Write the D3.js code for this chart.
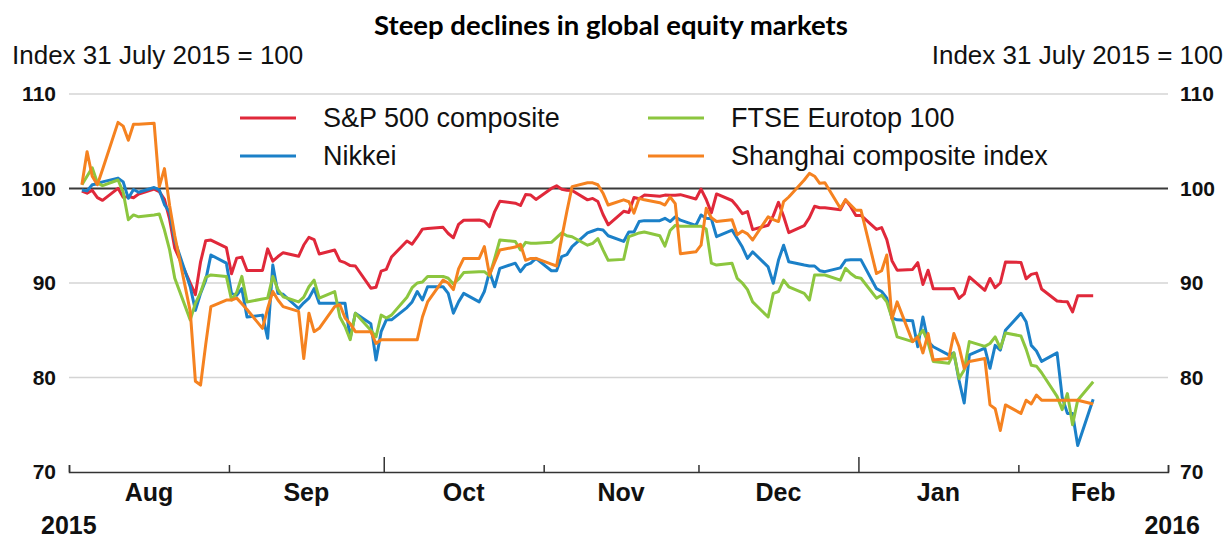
<!DOCTYPE html>
<html><head><meta charset="utf-8">
<script src="https://cdn.jsdelivr.net/npm/d3@7"></script>
<style>body{margin:0;background:#fff}svg{display:block}</style>
</head><body>
<svg id="c" width="1226" height="538"></svg>
<script>
// ---- data (index, 31 July 2015 = 100), one value per weekday 3 Aug 2015 .. 15 Feb 2016 ----
const seriesNames = ["S&P 500 composite", "Nikkei", "FTSE Eurotop 100", "Shanghai composite index"];
const seriesColors = ["#e0283a", "#1b80c8", "#8cc63f", "#f58220"];
const sp500 = [
 99.72, 99.50, 99.81, 99.04, 98.75,  100.02, 99.06, 99.15, 99.03, 99.42,
 99.93, 99.67, 98.85, 96.76, 93.68,  89.99, 88.77, 92.24, 94.48, 94.54,
 93.74, 90.97, 92.63, 92.74, 91.32,  91.32, 93.61, 92.31, 92.80, 93.21,
 92.83, 94.02, 94.84, 94.60, 93.07,  93.49, 92.34, 92.15, 91.84, 91.80,
 89.45, 89.55, 91.26, 91.44, 92.75,  94.45, 94.11, 94.87, 95.70, 95.77,
 95.89, 95.24, 94.79, 96.20, 96.64,  96.66, 96.53, 95.97, 97.56, 98.64,
 98.45, 98.20, 99.36, 99.31, 98.84,  100.01, 100.28, 99.93, 99.81, 99.78,
 98.80, 98.95, 98.63, 97.25, 96.16,  97.59, 97.46, 99.04, 98.92, 99.30,
 99.18, 99.30, 99.29, 99.29, 99.35,  98.89, 99.94, 98.84, 97.42, 99.42,
 98.73, 98.09, 97.33, 97.55, 95.65,  96.11, 97.13, 98.54, 97.06, 95.33,
 96.07, 96.92, 98.12, 97.96, 97.96,  97.75, 98.79, 98.08, 97.15, 97.15,
 95.67, 95.86, 94.60, 92.36, 91.36,  91.44, 92.15, 89.85, 91.35, 89.38,
 89.38, 89.42, 88.38, 88.84, 90.64,  89.22, 90.48, 89.50, 90.00, 92.22,
 92.18, 90.45, 90.91, 91.05, 89.36,  88.10, 88.04, 88.02, 86.94, 88.64,
 88.64];
const nikkei = [
 99.84, 99.75, 100.4, 100.5, 100.7,  101.1, 100.7, 98.96, 99.9, 99.6,
 100.1, 99.85, 98.3, 97.5, 94.5,  89.6, 87.1, 88.9, 90.3, 92.96,
 92.1, 88.9, 88.7, 89.4, 86.4,  86.6, 84.15, 91.9, 88.9, 88.8,
 87.3, 87.9, 88.4, 89.4, 87.85,  87.85, 87.85, 87.85, 84.15, 86.8,
 85.7, 81.85, 84.85, 86.1, 86.1,  87.4, 88.0, 89.1, 88.2, 89.6,
 89.6, 88.9, 86.8, 88.0, 88.9,  88.0, 89.1, 91.2, 89.6, 91.55,
 92.1, 91.2, 91.9, 92.1, 92.6,  91.3, 91.3, 92.8, 93.0, 93.85,
 95.3, 95.5, 95.7, 95.6, 95.0,  94.4, 95.4, 95.4, 96.5, 96.6,
 96.6, 96.85, 96.5, 97.0, 96.65,  96.1, 97.2, 96.85, 96.8, 94.9,
 95.6, 94.7, 93.8, 92.6, 93.3,  91.7, 89.97, 92.4, 94.0, 92.25,
 91.9, 91.8, 91.8, 91.3, 91.2,  91.6, 92.4, 92.45, 92.45, 92.45,
 89.4, 89.1, 88.4, 86.3, 86.1,  86.0, 83.25, 86.4, 83.8, 83.25,
 82.4, 82.6, 79.7, 77.3, 82.4,  83.1, 80.97, 83.4, 82.9, 85.0,
 86.8, 85.9, 83.4, 82.8, 81.7,  82.6, 77.9, 76.2, 76.2, 72.8,
 77.7];
const ftse = [
 100.4, 101.3, 102.2, 100.6, 100.3,  100.9, 99.6, 96.7, 97.2, 97.0,
 97.2, 97.3, 95.6, 93.5, 90.5,  86.1, 87.85, 89.0, 90.6, 90.85,
 90.7, 88.2, 89.0, 90.7, 88.0,  88.3, 88.4, 90.7, 89.3, 88.55,
 88.0, 88.5, 89.6, 90.3, 88.4,  89.1, 86.4, 85.4, 84.0, 86.8,
 85.0, 84.3, 86.6, 86.3, 86.6,  88.5, 89.5, 90.0, 90.1, 90.7,
 90.7, 90.5, 89.9, 90.4, 91.1,  91.2, 91.2, 90.75, 92.6, 94.55,
 94.4, 93.5, 94.3, 94.2, 94.2,  94.3, 94.8, 95.3, 95.0, 94.9,
 94.0, 94.2, 94.7, 93.5, 92.4,  92.5, 94.9, 95.1, 95.3, 95.4,
 95.0, 93.9, 95.55, 96.1, 96.0,  96.0, 96.0, 95.7, 92.1, 91.9,
 92.1, 90.5, 90.0, 89.3, 88.0,  86.4, 88.9, 89.1, 90.3, 89.6,
 88.9, 88.2, 90.85, 90.85, 90.85,  90.3, 91.55, 91.0, 90.6, 90.5,
 88.4, 88.7, 88.0, 86.3, 84.3,  83.8, 84.3, 85.0, 83.7, 81.7,
 81.5, 82.6, 79.9, 80.8, 83.8,  83.3, 83.6, 84.3, 83.1, 84.7,
 84.4, 83.0, 81.3, 81.2, 80.5,  78.0, 76.6, 78.3, 75.0, 77.6,
 79.55];
const shanghai = [
 100.4, 103.9, 101.3, 100.4, 102.0,  107.0, 106.6, 105.1, 106.8, 106.8,
 106.9, 100.2, 102.1, 98.2, 95.0,  87.0, 79.6, 79.2, 83.5, 87.5,
 88.2, 88.2, 88.4, 87.8, 87.2,  85.2, 87.3, 89.1, 88.2, 87.5,
 87.0, 82.0, 86.8, 84.85, 85.2,  87.5, 87.7, 86.3, 85.7, 84.85,
 84.85, 83.6, 84.0, 84.0, 84.0,  84.0, 84.0, 84.0, 86.4, 88.0,
 90.3, 90.0, 89.3, 91.5, 92.6,  92.6, 93.85, 90.85, 92.2, 93.5,
 93.8, 94.1, 92.4, 92.6, 92.6,  92.0, 91.8, 94.8, 97.6, 100.2,
 100.6, 100.6, 100.4, 99.5, 98.25,  98.8, 98.6, 97.4, 98.96, 98.8,
 98.5, 98.25, 99.1, 98.4, 93.1,  93.3, 94.0, 97.9, 96.9, 96.5,
 96.7, 95.1, 95.5, 95.2, 94.55,  97.0, 96.7, 96.5, 98.6, 99.1,
 100.9, 101.6, 101.3, 100.55, 100.6,  97.9, 98.8, 98.25, 97.7, 97.7,
 91.0, 91.3, 92.96, 86.2, 88.0,  83.8, 84.3, 82.6, 84.65, 81.85,
 82.0, 84.65, 83.25, 80.97, 81.7,  82.0, 77.1, 76.7, 74.4, 77.1,
 76.2, 77.6, 77.2, 78.15, 77.6,  77.6, 77.6, 77.6, 77.6, 77.6,
 77.2];
const yTicks = [70, 80, 90, 100, 110];
const monthLabels = ["Aug", "Sep", "Oct", "Nov", "Dec", "Jan", "Feb"];
const titleText = "Steep declines in global equity markets";
const unitText = "Index 31 July 2015 = 100";
const yearLabels = ["2015", "2016"];

// ---- dates: every weekday of the sample ----
const dates = d3.utcDays(new Date(Date.UTC(2015, 7, 3)), new Date(Date.UTC(2016, 1, 16)))
  .filter(d => d.getUTCDay() !== 0 && d.getUTCDay() !== 6)
  .map(d => d3.utcHour.offset(d, 12));
const allSeries = [sp500, nikkei, ftse, shanghai];

const svg = d3.select("#c");
const L = 69, R = 1168, T = 94, B = 472;
const x = d3.scaleUtc().domain([new Date(Date.UTC(2015, 7, 1)), new Date(Date.UTC(2016, 2, 1))]).range([L, R]);
const y = d3.scaleLinear().domain([70, 110]).range([B, T]);
const sans = "'Liberation Sans', Arial, Helvetica, sans-serif";

// gridlines
svg.append("g").selectAll("line").data(yTicks.filter(v => v !== 70 && v !== 100)).join("line")
  .attr("x1", L).attr("x2", R).attr("y1", d => y(d)).attr("y2", d => y(d))
  .attr("stroke", "#d4d4d4").attr("stroke-width", 1.5);

// y axes labels
const yl = svg.append("g").attr("transform", `translate(${L},0)`)
  .call(d3.axisLeft(y).tickValues(yTicks).tickSize(0).tickPadding(13));
const yr = svg.append("g").attr("transform", `translate(${R},0)`)
  .call(d3.axisRight(y).tickValues(yTicks).tickSize(0).tickPadding(12));
[yl, yr].forEach(g => {
  g.select(".domain").remove();
  g.selectAll("text").attr("font-family", sans).attr("font-weight", "bold")
    .attr("font-size", 21).attr("fill", "#111");
});

// x axis (ticks upward)
const monthStarts = d3.utcMonth.range(new Date(Date.UTC(2015, 7, 1)), new Date(Date.UTC(2016, 2, 2)));
const xa = svg.append("g").attr("transform", `translate(0,${B})`)
  .call(d3.axisTop(x).tickValues(monthStarts).tickSize(7).tickSizeOuter(7).tickFormat(""));
xa.select(".domain").attr("stroke", "#333").attr("stroke-width", 1.5);
xa.selectAll(".tick line").attr("stroke", "#333").attr("stroke-width", 1.5)
  .attr("y2", d => (d.getUTCMonth() === 9 || d.getUTCMonth() === 0) ? -15 : -7);

// month labels centred in each month
svg.append("g").selectAll("text").data(monthLabels).join("text")
  .attr("x", (d, i) => (x(monthStarts[i]) + x(monthStarts[i + 1])) / 2)
  .attr("y", 501).attr("text-anchor", "middle")
  .attr("font-family", sans).attr("font-weight", "bold").attr("font-size", 25).attr("fill", "#111")
  .text(d => d);
svg.append("text").attr("x", 41).attr("y", 534).attr("font-family", sans).attr("font-weight", "bold")
  .attr("font-size", 25).attr("fill", "#111").text(yearLabels[0]);
svg.append("text").attr("x", 1200).attr("y", 534).attr("text-anchor", "end").attr("font-family", sans)
  .attr("font-weight", "bold").attr("font-size", 25).attr("fill", "#111").text(yearLabels[1]);

// 100 reference line
svg.append("line").attr("x1", L).attr("x2", R).attr("y1", y(100)).attr("y2", y(100))
  .attr("stroke", "#3a3a3a").attr("stroke-width", 2);

// series lines
const line = d3.line().x((d, i) => x(dates[i])).y(d => y(d)).curve(d3.curveLinear);
svg.append("g").selectAll("path").data(allSeries).join("path")
  .attr("d", d => line(d)).attr("fill", "none")
  .attr("stroke", (d, i) => seriesColors[i]).attr("stroke-width", 3)
  .attr("stroke-linejoin", "round").attr("stroke-linecap", "butt");

// legend
const legPos = [[240, 118], [240, 156], [648, 118], [648, 156]];
const leg = svg.append("g").selectAll("g").data(seriesNames).join("g")
  .attr("transform", (d, i) => `translate(${legPos[i][0]},${legPos[i][1]})`);
leg.append("line").attr("x1", 0).attr("x2", 56).attr("y1", 0).attr("y2", 0)
  .attr("stroke", (d, i) => seriesColors[i]).attr("stroke-width", 3);
leg.append("text").attr("x", 83).attr("y", 0).attr("dy", "0.35em")
  .attr("font-family", sans).attr("font-size", 27).attr("fill", "#111").text(d => d);

// unit labels
svg.append("text").attr("x", 12).attr("y", 64).attr("font-family", sans).attr("font-size", 26)
  .attr("fill", "#111").text(unitText);
svg.append("text").attr("x", 1223).attr("y", 64).attr("text-anchor", "end").attr("font-family", sans)
  .attr("font-size", 26).attr("fill", "#111").text(unitText);

// title, sized to the reference width
const title = svg.append("text").attr("x", 611).attr("y", 35).attr("text-anchor", "middle")
  .attr("font-family", "Lato, 'Open Sans', sans-serif").attr("font-weight", "bold")
  .attr("font-size", 24).attr("fill", "#000").text(titleText);
const tw = title.node().getComputedTextLength();
title.attr("font-size", 24 * 474 / tw);
</script>
</body></html>
